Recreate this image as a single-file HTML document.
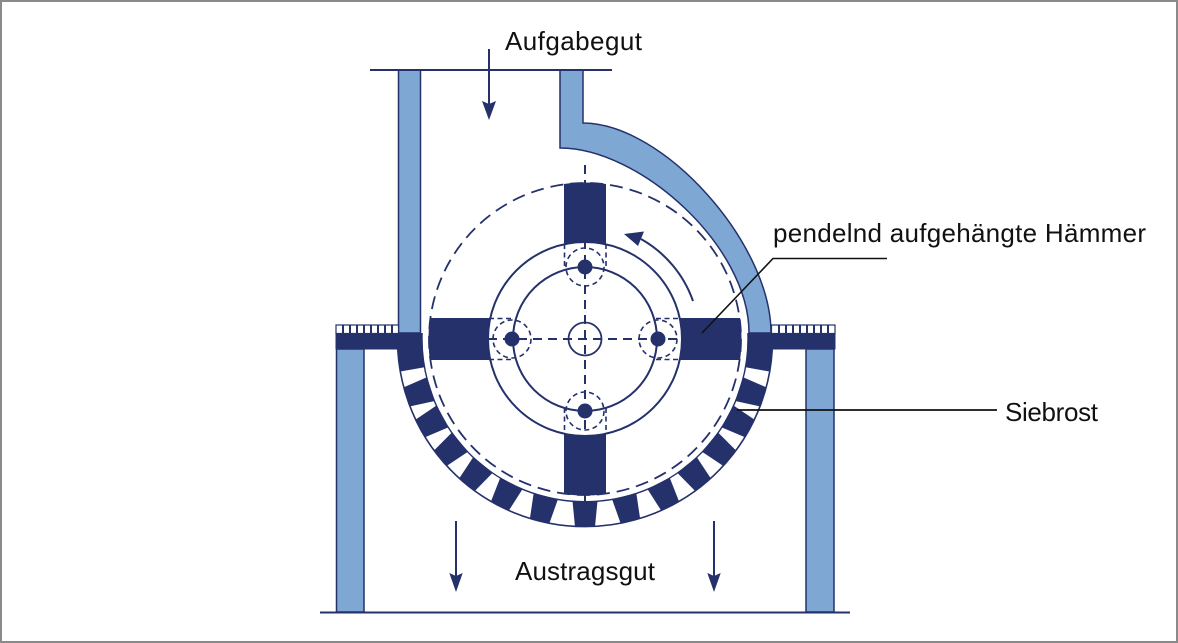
<!DOCTYPE html>
<html>
<head>
<meta charset="utf-8">
<style>
  html, body { margin: 0; padding: 0; background: #fff; }
  svg { display: block; }
  text { font-family: "Liberation Sans", "DejaVu Sans", sans-serif; fill: #111; }
</style>
</head>
<body>
<svg width="1178" height="643" viewBox="0 0 1178 643" xmlns="http://www.w3.org/2000/svg">
  <defs>
    <clipPath id="tipclip"><circle cx="585" cy="339" r="156.5"/></clipPath>
  </defs>

  <!-- frame border -->
  <rect x="1" y="1" width="1176" height="641" fill="#fff" stroke="#8a8a8a" stroke-width="2"/>

  <!-- housing walls -->
  <rect x="398.5" y="70" width="22" height="263" fill="#7ea7d3" stroke="#24316b" stroke-width="1.5"/>
  <path d="M 560 70 L 583 70 L 583 123 C 663 123, 771 243, 771 333 L 749 333 C 749 246, 640 148, 560 148 Z"
        fill="#7ea7d3" stroke="#24316b" stroke-width="1.5"/>

  <!-- top line -->
  <line x1="370" y1="70" x2="612" y2="70" stroke="#24316b" stroke-width="2"/>

  <!-- legs -->
  <rect x="336.5" y="349" width="27.5" height="263" fill="#7ea7d3" stroke="#24316b" stroke-width="1.5"/>
  <rect x="806" y="349" width="28" height="263" fill="#7ea7d3" stroke="#24316b" stroke-width="1.5"/>

  <!-- frame bars -->
  <rect x="335.5" y="333" width="64" height="16.5" fill="#24316b"/>
  <rect x="769" y="333" width="66.5" height="16.5" fill="#24316b"/>

  <!-- hatched strips -->
  <g fill="#24316b">
    <rect x="336" y="325" width="62.5" height="8.5" fill="#fff" stroke="#24316b" stroke-width="1.2"/>
    <rect x="342" y="325" width="2" height="8"/>
    <rect x="349" y="325" width="2" height="8"/>
    <rect x="356" y="325" width="2" height="8"/>
    <rect x="363" y="325" width="2" height="8"/>
    <rect x="370" y="325" width="2" height="8"/>
    <rect x="377" y="325" width="2" height="8"/>
    <rect x="384" y="325" width="2" height="8"/>
    <rect x="391" y="325" width="2" height="8"/>
    <rect x="771.5" y="325" width="63.5" height="8.5" fill="#fff" stroke="#24316b" stroke-width="1.2"/>
    <rect x="778" y="325" width="2" height="8"/>
    <rect x="785" y="325" width="2" height="8"/>
    <rect x="792" y="325" width="2" height="8"/>
    <rect x="799" y="325" width="2" height="8"/>
    <rect x="806" y="325" width="2" height="8"/>
    <rect x="813" y="325" width="2" height="8"/>
    <rect x="820" y="325" width="2" height="8"/>
    <rect x="827" y="325" width="2" height="8"/>
  </g>

  <!-- grate (Siebrost) -->
  <g fill="#24316b">
    <path d="M 397.6 333 L 422.1 333 A 163 163 0 0 0 424.5 367.3 L 400.35 371.55 A 187.5 187.5 0 0 1 397.6 333 Z"/>
    <path d="M 747.9 333 L 772.4 333 A 187.5 187.5 0 0 1 769.65 371.55 L 745.5 367.3 A 163 163 0 0 0 747.9 333 Z"/>
    <polygon points="572.5,501 597.5,501 595,526.8 575,526.8"/>
    <polygon points="572.5,501 597.5,501 595,526.8 575,526.8" transform="rotate(14 585 339)"/>
    <polygon points="572.5,501 597.5,501 595,526.8 575,526.8" transform="rotate(-14 585 339)"/>
    <polygon points="572.5,501 597.5,501 595,526.8 575,526.8" transform="rotate(27 585 339)"/>
    <polygon points="572.5,501 597.5,501 595,526.8 575,526.8" transform="rotate(-27 585 339)"/>
    <polygon points="572.5,501 597.5,501 595,526.8 575,526.8" transform="rotate(39 585 339)"/>
    <polygon points="572.5,501 597.5,501 595,526.8 575,526.8" transform="rotate(-39 585 339)"/>
    <polygon points="572.5,501 597.5,501 595,526.8 575,526.8" transform="rotate(50.5 585 339)"/>
    <polygon points="572.5,501 597.5,501 595,526.8 575,526.8" transform="rotate(-50.5 585 339)"/>
    <polygon points="572.5,501 597.5,501 595,526.8 575,526.8" transform="rotate(61.5 585 339)"/>
    <polygon points="572.5,501 597.5,501 595,526.8 575,526.8" transform="rotate(-61.5 585 339)"/>
    <polygon points="572.5,501 597.5,501 595,526.8 575,526.8" transform="rotate(72 585 339)"/>
    <polygon points="572.5,501 597.5,501 595,526.8 575,526.8" transform="rotate(-72 585 339)"/>
  </g>
  <path d="M 397.6 333 A 187.5 187.5 0 1 0 772.4 333" fill="none" stroke="#24316b" stroke-width="1.6"/>
  <path d="M 422.1 333 A 163 163 0 1 0 747.9 333" fill="none" stroke="#24316b" stroke-width="1.4"/>

  <!-- hammers -->
  <g clip-path="url(#tipclip)" fill="#24316b">
    <rect x="564" y="178" width="42" height="325"/>
    <rect x="424" y="318" width="325" height="42"/>
  </g>

  <!-- rotor disc -->
  <circle cx="585" cy="339" r="97" fill="#fff" stroke="#24316b" stroke-width="2"/>
  <circle cx="585" cy="339" r="72" fill="none" stroke="#24316b" stroke-width="2"/>
  <circle cx="585" cy="339" r="16.5" fill="#fff" stroke="#24316b" stroke-width="1.8"/>

  <!-- dashed elements -->
  <g fill="none" stroke="#24316b" stroke-width="2">
    <line x1="585" y1="165" x2="585" y2="502" stroke-dasharray="9 6"/>
    <line x1="488" y1="339" x2="682" y2="339" stroke-dasharray="9 6"/>
    <circle cx="585" cy="339" r="156" stroke-dasharray="13 7" stroke-width="1.8"/>
  </g>
  <g fill="none" stroke="#24316b" stroke-width="1.6" stroke-dasharray="5 3.5">
    <line x1="564.5" y1="244" x2="564.5" y2="270"/>
    <line x1="606" y1="244" x2="606" y2="270"/>
    <circle cx="585" cy="267" r="19"/>
    <line x1="564.5" y1="408" x2="564.5" y2="434"/>
    <line x1="606" y1="408" x2="606" y2="434"/>
    <circle cx="585" cy="411" r="19"/>
    <line x1="489" y1="318.5" x2="514" y2="318.5"/>
    <line x1="489" y1="359.5" x2="514" y2="359.5"/>
    <circle cx="512" cy="339" r="19"/>
    <line x1="656" y1="318.5" x2="681" y2="318.5"/>
    <line x1="656" y1="359.5" x2="681" y2="359.5"/>
    <circle cx="658" cy="339" r="19"/>
  </g>

  <!-- pivots -->
  <g fill="#24316b">
    <circle cx="585" cy="267" r="7.5"/>
    <circle cx="585" cy="411" r="7.5"/>
    <circle cx="512" cy="339" r="7.5"/>
    <circle cx="658" cy="339" r="7.5"/>
  </g>

  <!-- rotation arrow -->
  <path d="M 693 301 A 115 115 0 0 0 641 239" fill="none" stroke="#24316b" stroke-width="2"/>
  <polygon points="624,234 644,231.5 638,246" fill="#24316b"/>

  <!-- feed arrow -->
  <line x1="489" y1="49" x2="489" y2="106" stroke="#24316b" stroke-width="2"/>
  <polygon points="482,101 489,104 496,101 489,120" fill="#24316b"/>

  <!-- discharge arrows -->
  <line x1="456" y1="521" x2="456" y2="578" stroke="#24316b" stroke-width="2"/>
  <polygon points="449.3,573 456,576 462.7,573 456,592" fill="#24316b"/>
  <line x1="714" y1="521" x2="714" y2="578" stroke="#24316b" stroke-width="2"/>
  <polygon points="707.3,573 714,576 720.7,573 714,592" fill="#24316b"/>

  <!-- bottom line -->
  <line x1="320" y1="612.5" x2="850" y2="612.5" stroke="#24316b" stroke-width="2"/>

  <!-- leader lines -->
  <polyline points="887,258.5 773,258.5 702,333" fill="none" stroke="#111" stroke-width="1.6"/>
  <line x1="737" y1="410" x2="997" y2="410" stroke="#111" stroke-width="1.8"/>

  <!-- labels -->
  <text x="505" y="50" font-size="26" textLength="137" lengthAdjust="spacing">Aufgabegut</text>
  <text x="773" y="242" font-size="26" textLength="373" lengthAdjust="spacing">pendelnd aufgehängte Hämmer</text>
  <text x="1005" y="421" font-size="26" textLength="93" lengthAdjust="spacing">Siebrost</text>
  <text x="515" y="580" font-size="26" textLength="140" lengthAdjust="spacing">Austragsgut</text>
</svg>
</body>
</html>
